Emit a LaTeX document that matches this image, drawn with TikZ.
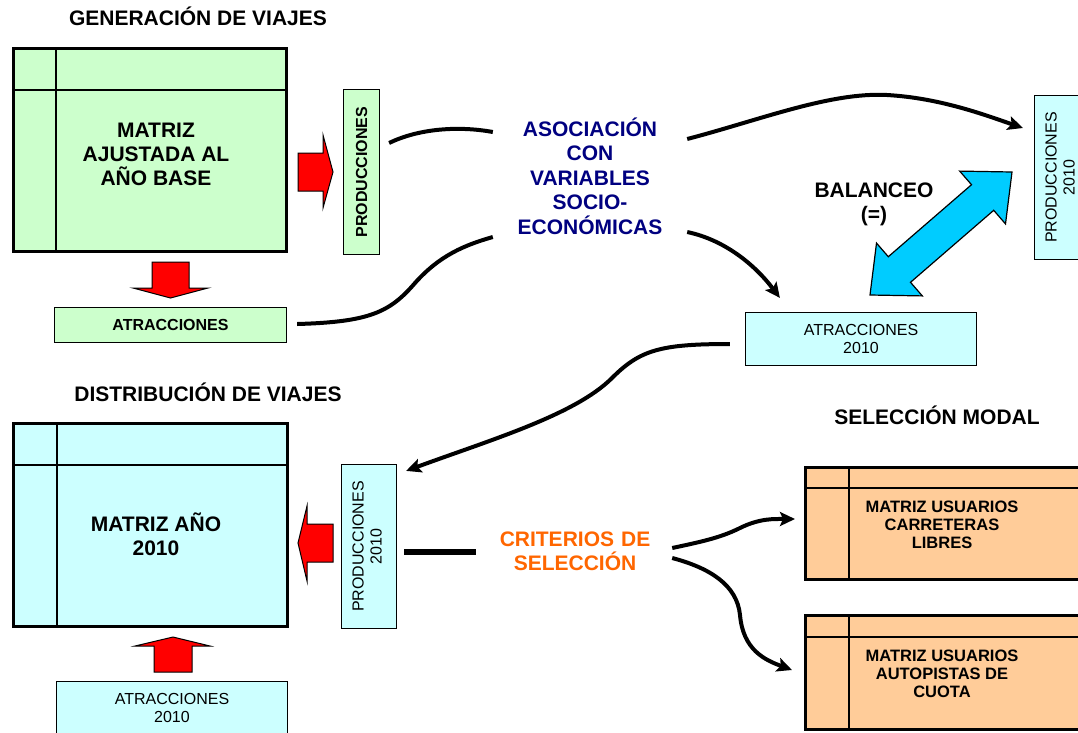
\documentclass[tikz,border=0pt]{standalone}
\usepackage{fontspec}
\setmainfont{Liberation Sans}
\usepackage{graphicx}
\usetikzlibrary{arrows.meta}

\definecolor{verde}{HTML}{CCFFCC}
\definecolor{celeste}{HTML}{CCFFFF}
\definecolor{durazno}{HTML}{FFCC99}
\definecolor{marino}{HTML}{000080}
\definecolor{naranja}{HTML}{FF6600}
\definecolor{cian}{HTML}{00CCFF}

\tikzset{
  titulo/.style = {font=\bfseries\fontsize{21}{24}\selectfont, inner sep=0pt},
  grande/.style = {font=\bfseries\fontsize{21}{24}\selectfont, align=center, inner sep=0pt},
  matriz/.style = {draw, line width=3pt, inner sep=0pt},
  rejilla/.style = {line width=1.5pt},
  caja/.style = {draw, line width=1.2pt, inner sep=0pt, align=center,
    font=\fontsize{16}{18}\selectfont},
  cajanegra/.style = {caja, font=\bfseries\fontsize{16}{18}\selectfont},
  usuarios/.style = {font=\bfseries\fontsize{16.5}{18}\selectfont, align=center, inner sep=0pt},
  bloque/.style = {draw, line width=1pt, fill=red},
  linea/.style = {line width=4pt},
  curva/.style = {linea, -{Stealth[length=15pt, width=14pt, inset=3pt]}},
}

\begin{document}
\begin{tikzpicture}[x=1pt, y=-1pt]
  \useasboundingbox (0,0) rectangle (1078,732);
  \clip (0,0) rectangle (1078,732);

  % generacion de viajes
  \node [titulo] (tgen) at (198,16) {GENERACIÓN DE VIAJES};
  \node [matriz, fill=verde, minimum width=273pt, minimum height=203pt] (gen) at (150,150) {};
  \draw [rejilla] ([xshift=44pt]gen.north west) -- ([xshift=44pt]gen.south west);
  \draw [rejilla] ([yshift=-43pt]gen.north west) -- ([yshift=-43pt]gen.north east);
  \node [grande] (genl) at (156,154) {MATRIZ\\AJUSTADA AL\\AÑO BASE};

  \node [cajanegra, fill=verde, minimum width=36pt, minimum height=165pt] (prodA) at (361.5,172)
    {\rotatebox{90}{PRODUCCIONES}};
  \node [cajanegra, fill=verde, minimum width=232pt, minimum height=35pt] (atrA) at (170.5,325)
    {ATRACCIONES};

  \draw [bloque] (298,153) -- (323,153) -- (323,135) -- (333,172) -- (323,208) -- (323,191) -- (298,191) -- cycle;
  \draw [bloque] (152,262) -- (189,262) -- (189,288) -- (208,288) -- (170.5,298) -- (133,288) -- (152,288) -- cycle;

  \node [grande, text=marino, text width=150pt, font=\bfseries\fontsize{21}{24.5}\selectfont] (asoc) at (590,176)
    {ASOCIACIÓN\\CON\\VARIABLES\\SOCIO-\\ECONÓMICAS};

  % 2010
  \node [caja, fill=celeste, minimum width=55pt, minimum height=164pt] (prodC) at (1062,177.5)
    {\rotatebox{90}{\begin{tabular}{@{}c@{}}PRODUCCIONES\\2010\end{tabular}}};
  \node [caja, fill=celeste, minimum width=231pt, minimum height=53pt] (atrB) at (861,339)
    {ATRACCIONES\\2010};
  \node [grande] (bal) at (874,204) {BALANCEO\\(=)};
  \draw [line width=1.2pt, fill=cian] (870,295) -- (922.3,295.9) -- (910.5,282.3) -- (993.7,210.3)
    -- (1005.5,223.9) -- (1012,172) -- (959.7,171.1) -- (971.5,184.7) -- (888.3,256.7)
    -- (876.5,243.1) -- cycle;

  \draw [linea] ([shift={(9,-29)}]prodA.east) .. controls (420,128) and (460,126) .. ([shift={(-22,-44)}]asoc.west);
  \draw [linea] ([shift={(10,-1)}]atrA.east) .. controls (370,322) and (390,312) .. (415,283)
    .. controls (440,255) and (465,245) .. ([shift={(-22,61)}]asoc.west);
  \draw [curva] ([shift={(22,-37)}]asoc.east) .. controls (760,120) and (830,92) .. (887,95)
    .. controls (940,98) and (985,115) .. ([shift={(-11,-49.5)}]prodC.west);
  \draw [curva] ([shift={(22,56)}]asoc.east) .. controls (725,240) and (755,265) .. ([shift={(35,-14)}]atrB.north west);

  % distribucion de viajes
  \node [titulo] (tdist) at (208,392) {DISTRIBUCIÓN DE VIAJES};
  \node [matriz, fill=celeste, minimum width=274pt, minimum height=203pt] (dist) at (150.5,525) {};
  \draw [rejilla] ([xshift=45pt]dist.north west) -- ([xshift=45pt]dist.south west);
  \draw [rejilla] ([yshift=-43pt]dist.north west) -- ([yshift=-43pt]dist.north east);
  \node [grande] (distl) at (156,534) {MATRIZ AÑO\\2010};

  \node [caja, fill=celeste, minimum width=55pt, minimum height=164pt] (prodB) at (369,546.5)
    {\rotatebox{90}{\begin{tabular}{@{}c@{}}PRODUCCIONES\\2010\end{tabular}}};
  \node [caja, fill=celeste, minimum width=231pt, minimum height=53pt] (atrC) at (172,708)
    {ATRACCIONES\\2010};

  \draw [bloque] (333,524) -- (307,524) -- (307,506) -- (298,543) -- (307,581) -- (307,562) -- (333,562) -- cycle;
  \draw [bloque] (154,672) -- (192,672) -- (192,646) -- (210,646) -- (173,637) -- (135,646) -- (154,646) -- cycle;

  \draw [curva] ([shift={(-15,5)}]atrB.west) .. controls (660,344) and (640,350) .. (612,378)
    .. controls (575,415) and (490,440) .. ([shift={(9,7)}]prodB.north east);

  % seleccion modal
  \node [grande, text=naranja, text width=166pt] (crit) at (575,551) {CRITERIOS DE\\SELECCIÓN};
  \draw [line width=5.5pt] ([shift={(7,5.5)}]prodB.east) -- ([shift={(-16,1)}]crit.west);

  \node [titulo] (tmodal) at (937,415) {SELECCIÓN MODAL};
  \node [matriz, fill=durazno, minimum width=293pt, minimum height=112pt] (libres) at (952,523.5) {};
  \draw [rejilla] ([xshift=45pt]libres.north west) -- ([xshift=45pt]libres.south west);
  \draw [rejilla] ([yshift=-22pt]libres.north west) -- ([yshift=-22pt]libres.north east);
  \node [usuarios] (libresl) at (942,525) {MATRIZ USUARIOS\\CARRETERAS\\LIBRES};

  \node [matriz, fill=durazno, minimum width=293pt, minimum height=114pt] (cuota) at (952,672.5) {};
  \draw [rejilla] ([xshift=45pt]cuota.north west) -- ([xshift=45pt]cuota.south west);
  \draw [rejilla] ([yshift=-23pt]cuota.north west) -- ([yshift=-23pt]cuota.north east);
  \node [usuarios] (cuotal) at (942,674) {MATRIZ USUARIOS\\AUTOPISTAS DE\\CUOTA};

  \draw [curva] ([shift={(14,-3)}]crit.east) .. controls (700,542) and (720,538) .. (740,528)
    .. controls (760,518) and (775,519) .. ([shift={(-9,-4.5)}]libres.west);
  \draw [curva] ([shift={(14,7)}]crit.east) .. controls (710,568) and (737,585) .. (740,615)
    .. controls (743,650) and (765,660) .. ([shift={(-12,-2.5)}]cuota.west);
\end{tikzpicture}
\end{document}
